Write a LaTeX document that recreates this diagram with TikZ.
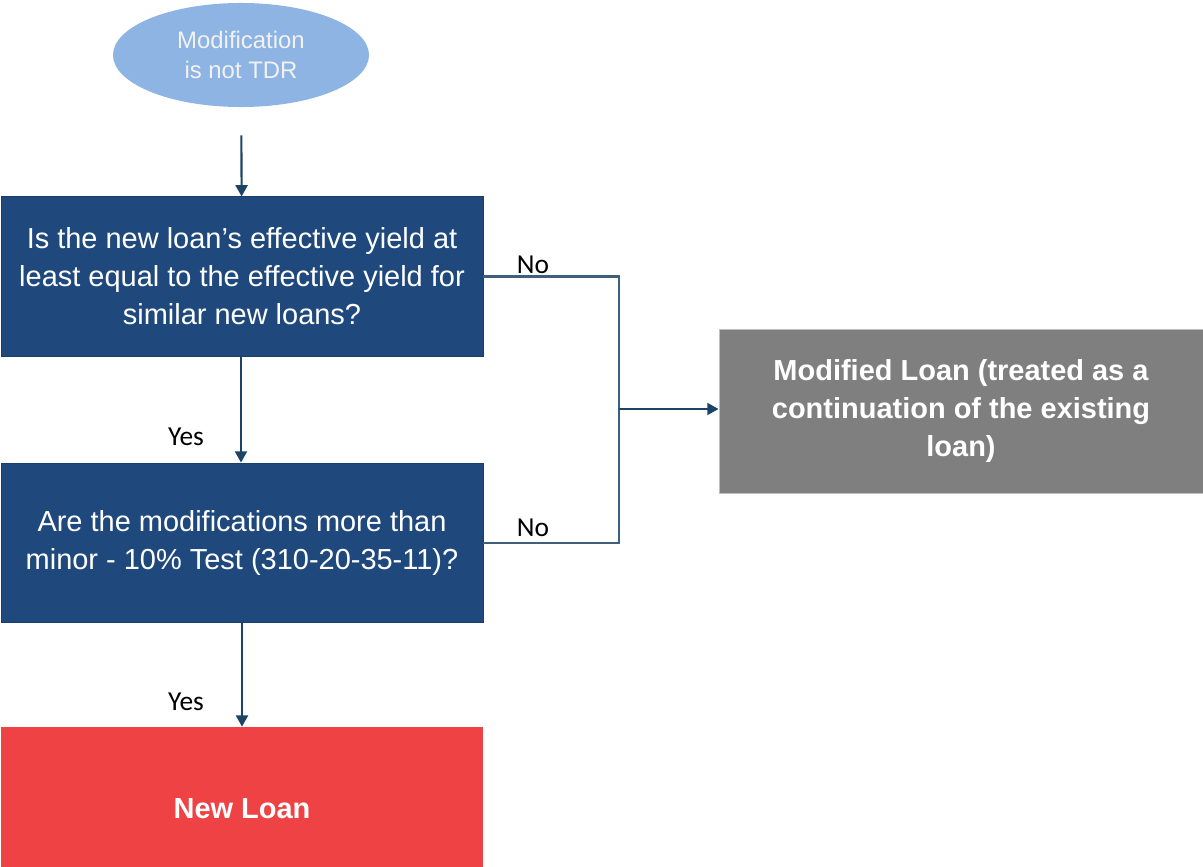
\documentclass[tikz,border=0pt]{standalone}
\usepackage{fontspec}
\setmainfont{Liberation Sans}
\newfontfamily\lblfont{Carlito}
\usepackage{tikz}
\usetikzlibrary{positioning, arrows.meta, shapes.geometric, calc}

\definecolor{qblue}{HTML}{1F497D}
\definecolor{qedge}{HTML}{1A3E6A}
\definecolor{startblue}{HTML}{8EB4E3}
\definecolor{modgray}{HTML}{7F7F7F}
\definecolor{newred}{HTML}{EE4245}
\definecolor{linkblue}{HTML}{1C4466}

\begin{document}
\begin{tikzpicture}[
        x=0.025cm, y=-0.025cm,
        boxtext/.style={font=\fontsize{20.6}{27}\selectfont, text=white, align=center},
        qbox/.style={boxtext, draw=qedge, line width=0.6pt, fill=qblue, minimum width=12.05cm, minimum height=3.98cm, inner sep=0pt},
        endbox/.style={boxtext, font=\fontsize{20.6}{27}\selectfont\bfseries, fill=#1, minimum height=4.1cm, inner sep=0pt},
        startnode/.style={ellipse, fill=startblue, text=white!95!black, align=center, font=\fontsize{17}{21.3}\selectfont, minimum width=6.4cm, minimum height=2.6cm, inner sep=0pt},
        lbl/.style={font=\lblfont\fontsize{19.5}{23}\selectfont, inner sep=0pt},
        arr/.style={-{Triangle[length=8pt, width=8.5pt]}, line width=1.5pt, draw=linkblue},
        conn/.style={line width=1.5pt, draw=linkblue!85!white},
    ]
    \useasboundingbox (0,0) rectangle (1203,867);

    % ---- Main column ----
    \node[startnode] (start) at (241,55) {Modification\\is not TDR};
    \node[qbox] (q1) at (242,276.5) {Is the new loan's effective yield at\\least equal to the effective yield for\\similar new loans?};
    \node[qbox, below=2.65cm of q1] (q2) {Are the modifications more than\\minor - 10\% Test (310-20-35-11)?};
    \node[endbox=newred, minimum width=12.05cm, below=2.6cm of q2] (newloan) {New Loan};

    \draw[arr, shorten <=0.7cm] (start) -- (q1);
    \draw[arr] (q1.south -| start) -- (q2.north -| start);
    \draw[arr] (q2) -- (newloan);

    \node[lbl] (yes1) at (186,437) {Yes};
    \node[lbl] (yes2) at (186,702) {Yes};

    % ---- No branch ----
    \node[endbox=modgray, draw=gray!50, line width=0.6pt, minimum width=12.1cm] (modloan) at (961,411) {Modified Loan (treated as a\\continuation of the existing\\loan)};

    \coordinate (jn) at (619,409);
    \draw[conn] (q1.east) -| (jn) |- (q2.east);
    \draw[arr] (jn) -- (modloan.west |- jn);

    \node[lbl] (no1) at (533,265) {No};
    \node[lbl] (no2) at (533,528) {No};
\end{tikzpicture}
\end{document}
